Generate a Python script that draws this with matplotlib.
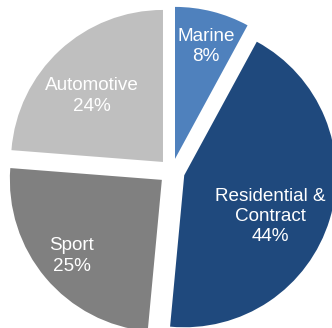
import numpy as np
import matplotlib.pyplot as plt

# Datos del gráfico (porcentajes)
segments = ['Marine', 'Residential &\nContract', 'Sport', 'Automotive']
shares = [8, 44, 25, 24]

# Estilo
colors = ['#4F81BD', '#1F497D', '#808080', '#BFBFBF']
label_r = [0.853, 0.714, 0.863, 0.725]        # posición de etiquetas (radio)
label_deg = [74.7, -24.5, -139.9, 136.8]      # posición de etiquetas (ángulo)

plt.rcParams['font.family'] = ['Liberation Sans', 'DejaVu Sans']

fig = plt.figure(figsize=(3.32, 3.28), dpi=100)
ax = fig.add_axes([0, 0, 1, 1])

ax.pie(shares, colors=colors, startangle=90, counterclock=False,
       explode=[0.0855] * len(shares), radius=1,
       wedgeprops={'linewidth': 0})

for name, val, r, a in zip(segments, shares, label_r, label_deg):
    t = np.deg2rad(a)
    ax.text(r * np.cos(t), r * np.sin(t), f'{name}\n{val}%',
            ha='center', va='center', color='white', fontsize=13.6,
            linespacing=1.25)

ax.set_xlim(-171.8 / 152, 160.2 / 152)
ax.set_ylim(-156.5 / 152, 171.5 / 152)
ax.set_aspect('auto')
ax.axis('off')

fig.savefig('out.png', dpi=100)
